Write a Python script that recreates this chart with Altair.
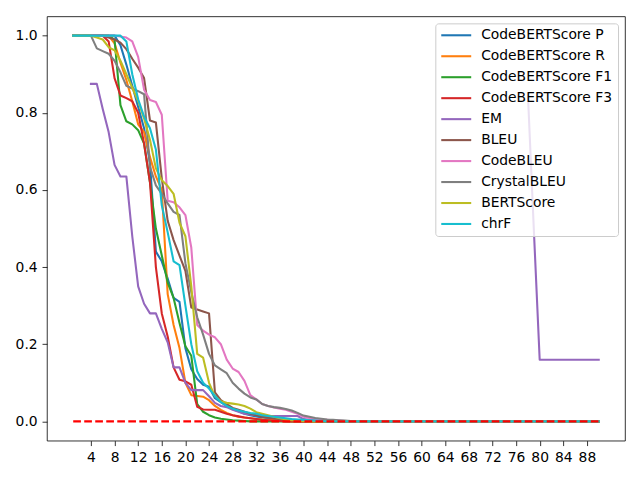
import altair as alt
import pandas as pd

# ---- data (x = 1 .. 90) ----
names = ["CodeBERTScore P", "CodeBERTScore R", "CodeBERTScore F1", "CodeBERTScore F3",
         "EM", "BLEU", "CodeBLEU", "CrystalBLEU", "BERTScore", "chrF"]
colors = ["#1f77b4", "#ff7f0e", "#2ca02c", "#d62728", "#9467bd",
          "#8c564b", "#e377c2", "#7f7f7f", "#bcbd22", "#17becf"]

N = 90

p_vals = [1, 1, 1, 1, 1, 1, 1, 1, 0.975, 0.925, 0.87, 0.815, 0.76, 0.67, 0.44, 0.415, 0.37, 0.32, 0.31, 0.19,
          0.135, 0.11, 0.095, 0.09, 0.06, 0.05, 0.04, 0.032, 0.026, 0.02, 0.016, 0.013, 0.01, 0.008, 0.006,
          0.005, 0.004, 0.003, 0.002, 0.001]
r_vals = [1, 1, 1, 1, 1, 1, 1, 0.98, 0.93, 0.885, 0.83, 0.77, 0.75, 0.685, 0.635, 0.6, 0.33, 0.25, 0.19, 0.1,
          0.068, 0.066, 0.064, 0.055, 0.04, 0.03, 0.022, 0.016, 0.012, 0.01, 0.008, 0.006, 0.005, 0.004,
          0.003, 0.002, 0.001]
f1_vals = [1, 1, 1, 1, 1, 1, 1, 0.99, 0.82, 0.778, 0.77, 0.755, 0.72, 0.62, 0.5, 0.43, 0.36, 0.32, 0.255,
           0.195, 0.17, 0.045, 0.025, 0.016, 0.01, 0.007, 0.005, 0.003, 0.002, 0.001]
f3_vals = [1, 1, 1, 1, 1, 1, 0.985, 0.89, 0.845, 0.838, 0.83, 0.8, 0.72, 0.62, 0.4, 0.28, 0.22, 0.14, 0.108,
           0.104, 0.095, 0.038, 0.031, 0.03, 0.03, 0.025, 0.02, 0.016, 0.013, 0.01, 0.008, 0.006, 0.004,
           0.003, 0.002, 0.001]
# EM is drawn in two pieces: x = 4..45 and x = 78..90
em_x1 = list(range(4, 46))
em_vals1 = [0.875, 0.875, 0.81, 0.75, 0.665, 0.635, 0.635, 0.48, 0.35, 0.305, 0.28, 0.28, 0.24, 0.205, 0.14,
            0.14, 0.1, 0.081, 0.081, 0.081, 0.065, 0.048, 0.04, 0.037, 0.03, 0.025, 0.02, 0.018, 0.016,
            0.015, 0.014, 0.014, 0.014, 0.014, 0.014, 0.014, 0.006, 0.004, 0.003, 0.002, 0.001, 0.0]
em_x2 = list(range(78, 91))
em_vals2 = [0.85, 0.5, 0.16, 0.16, 0.16, 0.16, 0.16, 0.16, 0.16, 0.16, 0.16, 0.16, 0.16]
bleu_vals = [1, 1, 1, 1, 1, 1, 0.995, 0.99, 0.982, 0.965, 0.94, 0.917, 0.89, 0.78, 0.775, 0.63, 0.52, 0.47,
             0.43, 0.39, 0.295, 0.29, 0.285, 0.28, 0.075, 0.055, 0.045, 0.035, 0.03, 0.025, 0.02, 0.016,
             0.012, 0.01, 0.008, 0.006, 0.005, 0.004, 0.003, 0.002, 0.001]
codebleu_vals = [1, 1, 1, 1, 1, 1, 1, 1, 0.998, 0.995, 0.985, 0.945, 0.86, 0.833, 0.828, 0.795, 0.572, 0.568,
                 0.555, 0.535, 0.45, 0.25, 0.235, 0.225, 0.218, 0.2, 0.16, 0.137, 0.128, 0.105, 0.068, 0.057,
                 0.045, 0.04, 0.036, 0.033, 0.03, 0.025, 0.02, 0.012, 0.009, 0.007, 0.005, 0.004, 0.003,
                 0.002, 0.001]
crystal_vals = [1, 1, 1, 1, 0.967, 0.96, 0.953, 0.935, 0.905, 0.87, 0.863, 0.856, 0.848, 0.66, 0.612, 0.59,
                0.565, 0.543, 0.535, 0.41, 0.335, 0.27, 0.225, 0.175, 0.145, 0.135, 0.125, 0.1, 0.085, 0.072,
                0.062, 0.057, 0.045, 0.04, 0.037, 0.035, 0.032, 0.028, 0.022, 0.015, 0.012, 0.009, 0.007,
                0.005, 0.004, 0.003, 0.002, 0.001]
bert_vals = [1, 1, 1, 1, 0.995, 0.99, 0.97, 0.962, 0.935, 0.9, 0.865, 0.83, 0.785, 0.73, 0.656, 0.625, 0.61,
             0.59, 0.515, 0.48, 0.35, 0.175, 0.165, 0.1, 0.065, 0.052, 0.048, 0.046, 0.044, 0.04, 0.033,
             0.024, 0.02, 0.016, 0.012, 0.008, 0.005, 0.003, 0.002, 0.001]
chrf_vals = [1, 1, 1, 1, 1, 1, 1, 1, 1, 0.985, 0.9, 0.835, 0.79, 0.76, 0.705, 0.56, 0.49, 0.415, 0.405, 0.3,
             0.2, 0.13, 0.1, 0.085, 0.066, 0.05, 0.04, 0.033, 0.028, 0.025, 0.022, 0.02, 0.016, 0.014,
             0.012, 0.01, 0.008, 0.006, 0.005, 0.004, 0.003, 0.002, 0.001]

x_ticks = list(range(4, 89, 4))
y_ticks = [0.0, 0.2, 0.4, 0.6, 0.8, 1.0]
baseline_x = [1, 90]
baseline_y = [0.0, 0.0]


def full(vals):
    return list(vals) + [0.0] * (N - len(vals))


rows = []
plain = {
    "CodeBERTScore P": p_vals, "CodeBERTScore R": r_vals, "CodeBERTScore F1": f1_vals,
    "CodeBERTScore F3": f3_vals, "BLEU": bleu_vals, "CodeBLEU": codebleu_vals,
    "CrystalBLEU": crystal_vals, "BERTScore": bert_vals, "chrF": chrf_vals,
}
for name in names:
    if name == "EM":
        for xv, yv in zip(em_x1, em_vals1):
            rows.append({"x": xv, "y": yv, "series": name, "seg": "a"})
        for xv, yv in zip(em_x2, em_vals2):
            rows.append({"x": xv, "y": yv, "series": name, "seg": "b"})
    else:
        for i, yv in enumerate(full(plain[name])):
            rows.append({"x": i + 1, "y": yv, "series": name, "seg": "a"})
df = pd.DataFrame(rows)
base_df = pd.DataFrame({"x": baseline_x, "y": baseline_y})

FONT = "DejaVu Sans"
xenc = alt.X("x:Q", scale=alt.Scale(domain=[-3.45, 94.45], nice=False, zero=False),
             axis=alt.Axis(values=x_ticks, title=None))
yenc = alt.Y("y:Q", scale=alt.Scale(domain=[-0.05, 1.05], nice=False, zero=False),
             axis=alt.Axis(values=y_ticks, format=".1f", title=None))
cenc = alt.Color("series:N", scale=alt.Scale(domain=names, range=colors),
                 legend=alt.Legend(title=None, orient="top-right", offset=7,
                                   symbolType="M-3,0H3", symbolSize=100, symbolStrokeWidth=2.08,
                                   symbolOffset=9,
                                   labelFont=FONT, labelFontSize=13.9, labelColor="black",
                                   labelOffset=18, padding=5, rowPadding=6,
                                   fillColor="rgba(255,255,255,0.8)", strokeColor="#cccccc",
                                   cornerRadius=3))

layers = []
for name in names:
    layers.append(
        alt.Chart(df).transform_filter(alt.datum.series == name)
        .mark_line(strokeWidth=2.08, strokeCap="square", strokeJoin="round")
        .encode(x=xenc, y=yenc, color=cenc, detail="seg:N")
    )
layers.append(
    alt.Chart(base_df).mark_line(color="#ff0000", strokeWidth=2.08, strokeDash=[7.7, 3.33])
    .encode(x=xenc, y=yenc)
)

chart = alt.layer(*layers).properties(
    width=579, height=425,
    autosize=alt.AutoSizeParams(type="none"),
    padding={"left": 39, "top": 8, "right": 7, "bottom": 31},
).configure_view(stroke="black", strokeWidth=0.8).configure_axis(
    domain=False, grid=False, tickColor="black", tickWidth=0.8, tickSize=4.9,
    labelFont=FONT, labelFontSize=13.9, labelColor="black", labelPadding=4.9,
    labelFlush=False, labelOverlap=False,
)

chart.save("out.html", embed_options={"renderer": "svg", "actions": False})
